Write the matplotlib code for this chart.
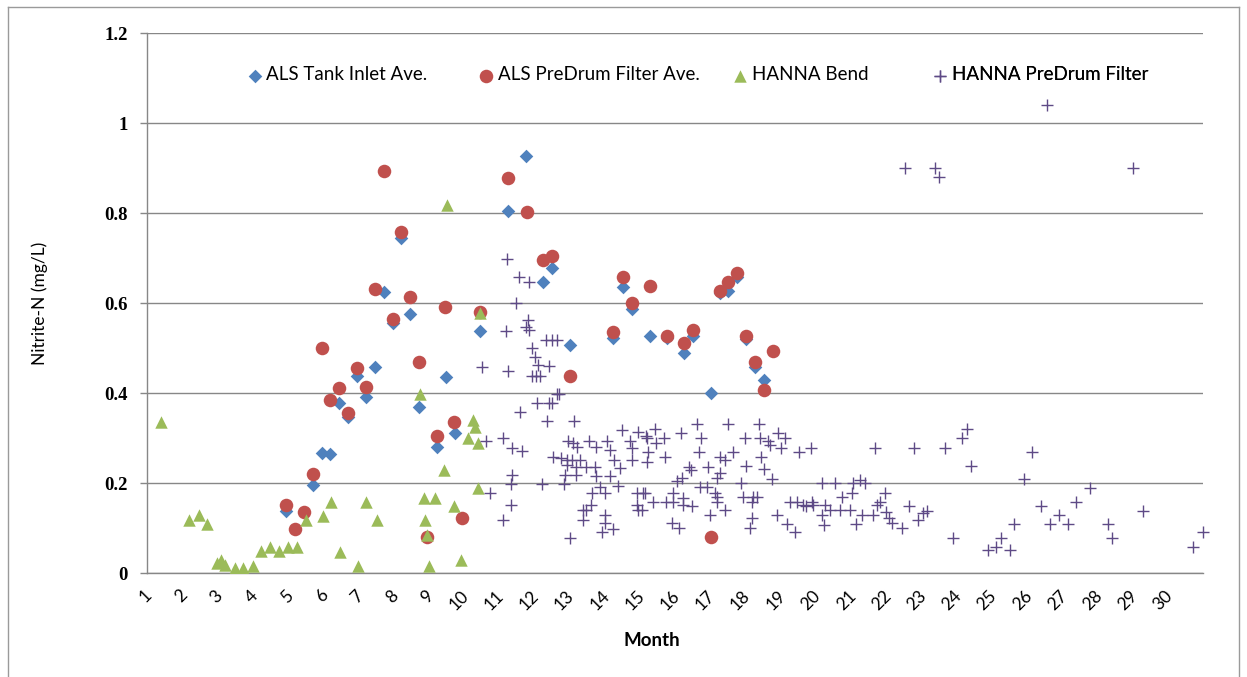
import matplotlib
matplotlib.use("Agg")
import matplotlib.pyplot as plt
import matplotlib.transforms as mtransforms
from matplotlib.lines import Line2D

# ---- data -------------------------------------------------------------
months = list(range(1, 31))
month_labels = [str(m) for m in months]
y_ticks = [0, 0.2, 0.4, 0.6, 0.8, 1.0, 1.2]
y_tick_labels = ["0", "0.2", "0.4", "0.6", "0.8", "1", "1.2"]

tank_inlet_x = [4.86, 5.62, 5.89, 6.12, 6.38, 6.63, 6.87, 7.14, 7.39, 7.66, 7.91, 8.12,
                8.39, 8.64, 9.14, 9.41, 9.66, 10.38, 11.18, 11.68, 12.17, 12.43, 12.93,
                14.16, 14.43, 14.68, 15.20, 15.68, 16.18, 16.43, 16.95, 17.19, 17.43,
                17.67, 17.92, 18.19, 18.44]
tank_inlet_y = [0.139, 0.196, 0.268, 0.265, 0.379, 0.347, 0.438, 0.392, 0.459, 0.624, 0.556,
                0.745, 0.576, 0.370, 0.281, 0.437, 0.311, 0.539, 0.805, 0.926, 0.648, 0.679,
                0.507, 0.522, 0.635, 0.587, 0.528, 0.522, 0.489, 0.528, 0.400, 0.622, 0.627,
                0.659, 0.520, 0.459, 0.430]

predrum_x = [4.86, 5.12, 5.38, 5.62, 5.89, 6.11, 6.38, 6.63, 6.87, 7.14, 7.39, 7.65, 7.91,
             8.12, 8.39, 8.63, 8.88, 9.14, 9.39, 9.65, 9.87, 10.38, 11.18, 11.70, 12.17,
             12.43, 12.93, 14.16, 14.43, 14.68, 15.20, 15.68, 16.18, 16.43, 16.95, 17.19,
             17.43, 17.67, 17.92, 18.19, 18.44, 18.69]
predrum_y = [0.152, 0.098, 0.137, 0.221, 0.500, 0.385, 0.411, 0.357, 0.457, 0.413, 0.631,
             0.894, 0.564, 0.757, 0.613, 0.470, 0.080, 0.305, 0.591, 0.335, 0.122, 0.581,
             0.879, 0.802, 0.696, 0.705, 0.439, 0.537, 0.657, 0.600, 0.639, 0.528, 0.511,
             0.541, 0.081, 0.627, 0.648, 0.668, 0.526, 0.469, 0.407, 0.494]

bend_x = [1.30, 2.10, 2.39, 2.61, 2.91, 3.02, 3.13, 3.41, 3.63, 3.94, 4.14, 4.41, 4.66,
          4.93, 5.18, 5.42, 5.92, 6.14, 6.40, 6.92, 7.14, 7.44, 8.67, 8.77, 8.81, 8.88,
          8.94, 9.10, 9.35, 9.43, 9.65, 9.83, 10.02, 10.18, 10.22, 10.31, 10.33, 10.38]
bend_y = [0.337, 0.118, 0.130, 0.109, 0.022, 0.030, 0.018, 0.011, 0.011, 0.017, 0.050,
          0.058, 0.050, 0.058, 0.058, 0.118, 0.128, 0.159, 0.048, 0.017, 0.159, 0.118,
          0.398, 0.168, 0.118, 0.085, 0.017, 0.168, 0.230, 0.818, 0.150, 0.030, 0.300,
          0.340, 0.325, 0.189, 0.289, 0.579]

hanna_predrum_x = [
    11.13, 11.48, 11.78, 11.40, 11.73, 11.68, 11.78, 11.11, 12.25, 12.41, 12.57, 11.84,
    11.94, 12.03, 12.34, 10.42, 11.18, 11.86, 11.97, 12.08, 12.57, 12.62, 12.00, 12.34,
    12.41, 11.51, 12.29, 13.05, 14.40, 14.87, 15.09, 10.55, 11.04, 11.29, 11.58, 12.88,
    13.02, 13.14, 13.48, 13.67, 13.97, 14.07, 14.64, 14.68, 12.45, 12.67, 12.84, 12.98,
    13.22, 12.84, 13.10, 13.39, 13.64, 14.18, 14.35, 14.70, 12.79, 13.10, 13.67, 14.07,
    11.29, 11.26, 12.13, 12.77, 10.66, 13.55, 13.78, 13.93, 14.30, 14.83, 15.01, 11.25,
    13.29, 13.39, 13.52, 14.83, 14.87, 11.04, 13.31, 13.93, 13.93, 13.83, 14.14, 12.93,
    15.35, 15.11, 15.38, 15.60, 16.08, 16.55, 16.65, 17.43, 18.30, 17.90, 18.33, 18.57,
    18.61, 18.85, 19.04, 18.94, 19.45, 19.78, 21.60, 15.16, 16.61, 15.63, 15.13, 17.19,
    17.34, 17.57, 18.37, 16.32, 16.36, 16.84, 17.19, 17.12, 17.93, 18.44, 18.68, 16.10,
    15.96, 17.79, 16.63, 16.81, 20.08, 20.46, 20.98, 21.16, 21.31, 15.06, 15.87, 17.05,
    17.12, 17.86, 18.14, 18.24, 20.65, 20.93, 15.30, 15.66, 15.87, 16.15, 16.15, 16.39,
    17.10, 18.09, 19.18, 19.37, 19.56, 19.65, 19.82, 19.84, 20.18, 20.32, 20.60, 20.89,
    21.22, 21.55, 21.66, 14.97, 16.91, 17.34, 18.09, 18.80, 20.08, 15.82, 16.04, 18.05,
    19.09, 19.32, 20.16, 21.07,
    22.71, 23.59, 24.06, 24.20, 24.32, 26.05, 25.84, 21.88, 21.75, 21.92, 22.00, 22.09,
    22.35, 22.57, 22.83, 22.97, 23.08, 23.82, 24.82, 25.02, 25.19, 25.43, 25.55, 26.31,
    26.57, 26.83, 27.09, 27.31, 27.70, 28.22, 28.34, 29.20, 30.62, 30.92,
    26.47, 22.45, 23.30, 23.42, 28.92]
hanna_predrum_y = [
    0.698, 0.659, 0.648, 0.600, 0.563, 0.548, 0.541, 0.539, 0.518, 0.518, 0.518, 0.501,
    0.481, 0.463, 0.461, 0.459, 0.450, 0.439, 0.439, 0.439, 0.398, 0.398, 0.379, 0.379,
    0.379, 0.359, 0.339, 0.339, 0.318, 0.313, 0.304, 0.293, 0.300, 0.278, 0.272, 0.293,
    0.289, 0.281, 0.293, 0.281, 0.293, 0.274, 0.293, 0.278, 0.259, 0.255, 0.252, 0.252,
    0.252, 0.240, 0.237, 0.236, 0.236, 0.252, 0.233, 0.252, 0.218, 0.218, 0.215, 0.216,
    0.218, 0.198, 0.198, 0.198, 0.178, 0.178, 0.192, 0.178, 0.194, 0.178, 0.178, 0.152,
    0.141, 0.141, 0.152, 0.152, 0.141, 0.118, 0.118, 0.130, 0.111, 0.092, 0.098, 0.078,
    0.320, 0.300, 0.290, 0.300, 0.312, 0.332, 0.300, 0.332, 0.332, 0.300, 0.300, 0.293,
    0.285, 0.312, 0.300, 0.278, 0.270, 0.278, 0.278, 0.270, 0.270, 0.259, 0.248, 0.259,
    0.252, 0.270, 0.259, 0.237, 0.230, 0.237, 0.222, 0.211, 0.238, 0.231, 0.210, 0.211,
    0.204, 0.200, 0.191, 0.191, 0.200, 0.200, 0.200, 0.207, 0.200, 0.179, 0.179, 0.178,
    0.170, 0.170, 0.170, 0.170, 0.170, 0.179, 0.159, 0.159, 0.159, 0.167, 0.152, 0.150,
    0.159, 0.159, 0.159, 0.159, 0.152, 0.150, 0.159, 0.152, 0.152, 0.141, 0.141, 0.141,
    0.130, 0.130, 0.152, 0.141, 0.130, 0.141, 0.122, 0.130, 0.130, 0.111, 0.100, 0.100,
    0.110, 0.092, 0.107, 0.110,
    0.279, 0.279, 0.300, 0.320, 0.238, 0.270, 0.210, 0.179, 0.159, 0.137, 0.122, 0.112,
    0.100, 0.150, 0.118, 0.133, 0.139, 0.079, 0.052, 0.059, 0.079, 0.052, 0.110, 0.150,
    0.110, 0.130, 0.110, 0.159, 0.190, 0.110, 0.079, 0.139, 0.059, 0.091,
    1.041, 0.900, 0.900, 0.880, 0.900]

series_names = ["ALS Tank Inlet Ave.", "ALS PreDrum Filter Ave.",
                "HANNA Bend", "HANNA PreDrum Filter"]

# ---- figure -----------------------------------------------------------
W, H = 1247, 677
fig = plt.figure(figsize=(W / 100, H / 100), dpi=100)
fig.patch.set_facecolor("white")

sans = ["Lato", "DejaVu Sans"]
serif = ["Liberation Serif", "DejaVu Serif"]
grid_c = "#878787"
border_c = "#9a9a9a"

# chart-area border (open at the bottom edge of the image)
fig.add_artist(Line2D([8 / W, 8 / W], [0, 1 - 7 / H], color=border_c, lw=1.0))
fig.add_artist(Line2D([8 / W, 1239 / W], [1 - 7 / H, 1 - 7 / H], color=border_c, lw=1.0))
fig.add_artist(Line2D([1239 / W, 1239 / W], [0, 1 - 7 / H], color=border_c, lw=1.0))

left_px, right_px, top_px, bottom_px = 147, 1203, 33, 573.3
ax = fig.add_axes([left_px / W, 1 - bottom_px / H,
                   (right_px - left_px) / W, (bottom_px - top_px) / H])

px_per_month = 35.2
x0 = 1 + (left_px - 150) / px_per_month
x1 = 1 + (right_px - 150) / px_per_month
ax.set_xlim(x0, x1)
ax.set_ylim(0, 1.2)

# gridlines and axis lines
ax.set_yticks(y_ticks)
ax.set_yticklabels(y_tick_labels, fontfamily=serif, fontweight="bold", fontsize=13.5)
ax.yaxis.grid(True, color=grid_c, lw=1.0)
ax.set_axisbelow(True)
for s in ["top", "right"]:
    ax.spines[s].set_visible(False)
for s in ["left", "bottom"]:
    ax.spines[s].set_color(grid_c)
    ax.spines[s].set_linewidth(1.0)
ax.tick_params(axis="y", length=5, color=grid_c, width=1.0, pad=9)

ax.set_xticks(months)
ax.set_xticklabels(month_labels, rotation=45, ha="right", va="top",
                   fontfamily=sans, fontsize=12.5)
ax.tick_params(axis="x", length=0, pad=10)
shift = mtransforms.ScaledTranslation(5 / 100, 0, fig.dpi_scale_trans)
for lab in ax.get_xticklabels():
    lab.set_transform(lab.get_transform() + shift)

# series
h1 = ax.scatter(tank_inlet_x, tank_inlet_y, marker="D", s=48, color="#4F81BD",
                linewidths=0, zorder=3)
h2 = ax.scatter(predrum_x, predrum_y, marker="o", s=95, color="#C0504D",
                linewidths=0, zorder=4)
h3 = ax.scatter(bend_x, bend_y, marker="^", s=80, color="#9BBB59",
                linewidths=0, zorder=5)
h4 = ax.scatter(hanna_predrum_x, hanna_predrum_y, marker="+", s=75, color="#5E4A86",
                linewidths=1.0, zorder=6, clip_on=False)

ax.set_ylabel("Nitrite-N (mg/L)", fontfamily=sans, fontsize=12.5)
ax.yaxis.set_label_coords((40 - left_px) / (right_px - left_px), 0.5)
ax.yaxis.label.set_va("center")
ax.set_xlabel("Month", fontfamily=sans, fontsize=13.5, fontweight="bold")
ax.xaxis.set_label_coords((652 - left_px) / (right_px - left_px),
                          (bottom_px - 641) / (bottom_px - top_px))
ax.xaxis.label.set_va("center")

# legend entries, each placed on its own along the top of the plot
legend_marker_px = [252, 483, 737, 937]
legend_y = (bottom_px - 75) / (bottom_px - top_px)
for h, name, mx in zip([h1, h2, h3, h4], series_names, legend_marker_px):
    lg = ax.legend([h], [name], loc="center left",
                   bbox_to_anchor=((mx - 8 - left_px) / (right_px - left_px), legend_y),
                   frameon=False, prop={"family": sans, "size": 13.5},
                   handletextpad=0.0, handlelength=1.2, borderpad=0, borderaxespad=0,
                   scatterpoints=1)
    ax.add_artist(lg)

fig.savefig("out.png", dpi=100, facecolor="white")
